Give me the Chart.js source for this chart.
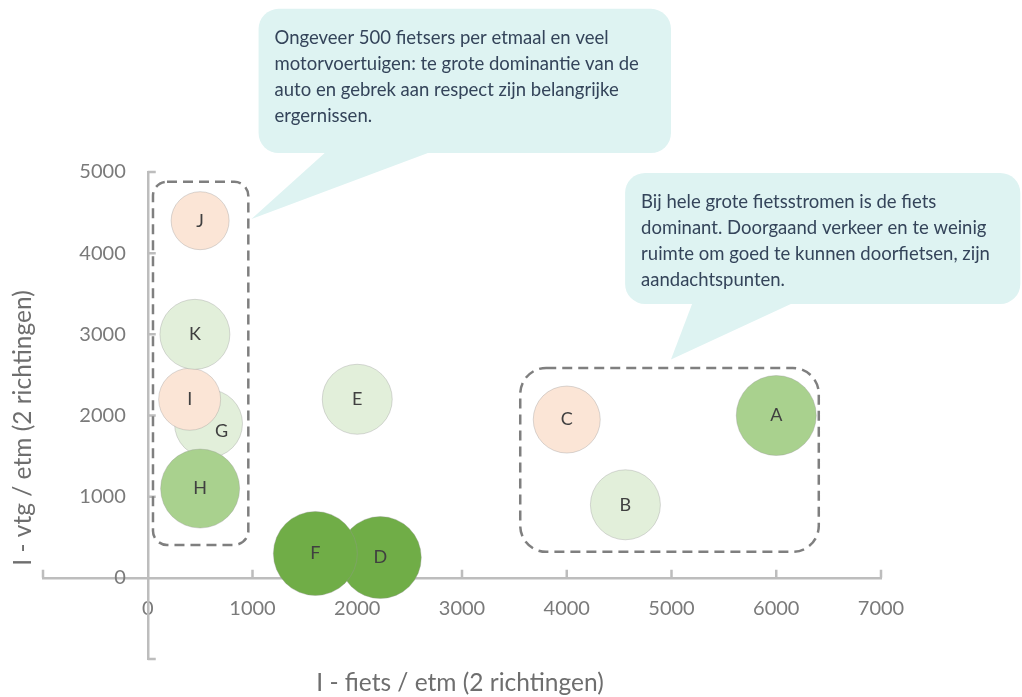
<!DOCTYPE html>
<html>
<head>
<meta charset="utf-8">
<script src="https://cdn.jsdelivr.net/npm/chart.js@4.4.1/dist/chart.umd.min.js"></script>
<style>
  html, body { margin: 0; padding: 0; background: #fff; overflow: hidden; }
  #wrap { width: 1022px; height: 697px; overflow: hidden; }
</style>
</head>
<body>
<div id="wrap"><canvas id="chart" width="1022" height="720"></canvas></div>
<script>
// data
const pointLabels = ['A', 'B', 'C', 'D', 'E', 'F', 'G', 'H', 'I', 'J', 'K']
const fietsPerEtm = [6000, 4560, 4000, 2220, 2000, 1600, 580, 500, 400, 500, 450]
const vtgPerEtm = [2000, 900, 1950, 250, 2200, 300, 1900, 1100, 2200, 4400, 3000]
const bubbleRadius = [40, 35, 33.5, 41, 35, 42, 34, 39.5, 31, 29, 35]
const bubbleClass = ['mid', 'light', 'warn', 'dark', 'light', 'dark', 'light', 'mid', 'warn', 'warn', 'light']
const xTickValues = [-1000, 0, 1000, 2000, 3000, 4000, 5000, 6000, 7000]
const yTickValues = [-1000, 0, 1000, 2000, 3000, 4000, 5000]

const xTitle = 'I - fiets / etm (2 richtingen)'
const yTitle = 'I - vtg / etm (2 richtingen)'

const callouts = [
  {
    lines: ['Ongeveer 500 fietsers per etmaal en veel', 'motorvoertuigen: te grote dominantie van de',
      'auto en gebrek aan respect zijn belangrijke', 'ergernissen.'],
    box: { x1: 1058, x2: 4995, y1: 7010, y2: 5234 }, base: [1700, 2700], tip: [990, 4420], r: 20
  },
  {
    lines: ['Bij hele grote fietsstromen is de fiets', 'dominant. Doorgaand verkeer en te weinig',
      'ruimte om goed te kunnen doorfietsen, zijn', 'aandachtspunten.'],
    box: { x1: 4557, x2: 8330, y1: 4988, y2: 3374 }, base: [5200, 6160], tip: [4995, 2690], r: 20
  }
]
const groupBoxes = [
  { x1: 50, x2: 960, y1: 4880, y2: 406, r: 14 },
  { x1: 3556, x2: 6406, y1: 2586, y2: 320, r: 26 }
]

const palette = { dark: '#70AD47', mid: '#A9D18E', light: '#E2EFDA', warn: '#FBE5D6' }
const axisGrey = '#BDBDBD'
const labelOffset = { G: [13, 8] }

const roundRect = (ctx, x, y, w, h, r) => {
  ctx.beginPath()
  ctx.moveTo(x + r, y)
  ctx.arcTo(x + w, y, x + w, y + h, r)
  ctx.arcTo(x + w, y + h, x, y + h, r)
  ctx.arcTo(x, y + h, x, y, r)
  ctx.arcTo(x, y, x + w, y, r)
  ctx.closePath()
}

const decorations = {
  id: 'decorations',
  beforeDatasetsDraw(chart) {
    const { ctx, scales: { x, y } } = chart
    const x0 = x.getPixelForValue(0)
    const y0 = y.getPixelForValue(0)
    ctx.save()
    ctx.strokeStyle = axisGrey
    ctx.lineWidth = 2.5
    ctx.beginPath()
    xTickValues.filter(v => v !== 0).forEach(v => {
      const px = x.getPixelForValue(v)
      ctx.moveTo(px, y0)
      ctx.lineTo(px, y0 - 8)
    })
    yTickValues.filter(v => v !== 0).forEach(v => {
      const py = y.getPixelForValue(v)
      ctx.moveTo(x0, py)
      ctx.lineTo(x0 + 8, py)
    })
    ctx.stroke()

    // dashed group outlines
    ctx.strokeStyle = '#7F7F7F'
    ctx.lineWidth = 2.5
    ctx.setLineDash([10, 6])
    groupBoxes.forEach(b => {
      const px1 = x.getPixelForValue(b.x1), px2 = x.getPixelForValue(b.x2)
      const py1 = y.getPixelForValue(b.y1), py2 = y.getPixelForValue(b.y2)
      roundRect(ctx, px1, py1, px2 - px1, py2 - py1, b.r)
      ctx.stroke()
    })
    ctx.restore()
  },
  afterDatasetsDraw(chart) {
    const { ctx, scales: { x, y } } = chart
    const meta = chart.getDatasetMeta(0)
    ctx.save()
    ctx.font = '18px Lato'
    ctx.fillStyle = '#404040'
    ctx.textAlign = 'center'
    ctx.textBaseline = 'middle'
    meta.data.forEach((el, i) => {
      const off = labelOffset[pointLabels[i]] || [0, 0]
      ctx.fillText(pointLabels[i], el.x + off[0], el.y + off[1])
    })

    // callouts
    callouts.forEach(c => {
      const bx1 = x.getPixelForValue(c.box.x1), bx2 = x.getPixelForValue(c.box.x2)
      const by1 = y.getPixelForValue(c.box.y1), by2 = y.getPixelForValue(c.box.y2)
      ctx.fillStyle = '#DEF3F2'
      roundRect(ctx, bx1, by1, bx2 - bx1, by2 - by1, c.r)
      ctx.fill()
      ctx.beginPath()
      ctx.moveTo(x.getPixelForValue(c.base[0]), by2 - 1)
      ctx.lineTo(x.getPixelForValue(c.tip[0]), y.getPixelForValue(c.tip[1]))
      ctx.lineTo(x.getPixelForValue(c.base[1]), by2 - 1)
      ctx.closePath()
      ctx.fill()
      ctx.fillStyle = '#34445A'
      ctx.font = '18.5px Lato'
      ctx.textAlign = 'left'
      c.lines.forEach((line, i) => ctx.fillText(line, bx1 + 16, by1 + 29 + i * 26))
    })

    // axis titles
    ctx.fillStyle = '#6E6E6E'
    ctx.font = '24.5px Lato'
    ctx.textAlign = 'center'
    ctx.fillText(xTitle, 460, 683)
    ctx.translate(23, 428)
    ctx.rotate(-Math.PI / 2)
    ctx.fillText(yTitle, 0, 0)
    ctx.restore()
  }
}

const tickFont = { family: 'Lato', size: 20 }
const tickLabel = v => (v < 0 ? '' : String(v))

new Chart(document.getElementById('chart'), {
  type: 'bubble',
  data: {
    datasets: [{
      data: pointLabels.map((l, i) => ({ x: fietsPerEtm[i], y: vtgPerEtm[i], r: bubbleRadius[i] })),
      backgroundColor: bubbleClass.map(c => palette[c]),
      borderColor: 'rgba(150,150,150,0.35)',
      borderWidth: 1
    }]
  },
  options: {
    responsive: false,
    animation: false,
    events: [],
    layout: { padding: { left: 40, right: 141, top: 172, bottom: 61 } },
    plugins: { legend: { display: false }, tooltip: { enabled: false } },
    scales: {
      x: {
        type: 'linear',
        min: -1000,
        max: 7000,
        position: { y: 0 },
        afterBuildTicks: s => { s.ticks = xTickValues.map(v => ({ value: v })) },
        grid: { display: false, drawTicks: false },
        border: { color: axisGrey, width: 2.5 },
        ticks: { font: tickFont, color: '#7A7A7A', padding: 19, callback: tickLabel, maxRotation: 0, autoSkip: false }
      },
      y: {
        type: 'linear',
        min: -1000,
        max: 5000,
        position: { x: 0 },
        afterBuildTicks: s => { s.ticks = yTickValues.map(v => ({ value: v })) },
        grid: { display: false, drawTicks: false },
        border: { color: axisGrey, width: 2.5 },
        ticks: { display: false }
      },
      // second y axis only to carry the tick labels a little left of the axis line
      yLabels: {
        type: 'linear',
        axis: 'y',
        min: -1000,
        max: 5000,
        position: { x: -210 },
        afterBuildTicks: s => { s.ticks = yTickValues.map(v => ({ value: v })) },
        grid: { display: false, drawTicks: false },
        border: { display: false },
        ticks: { font: tickFont, color: '#7A7A7A', padding: 0, callback: tickLabel, autoSkip: false }
      }
    }
  },
  plugins: [decorations]
})
</script>
</body>
</html>
